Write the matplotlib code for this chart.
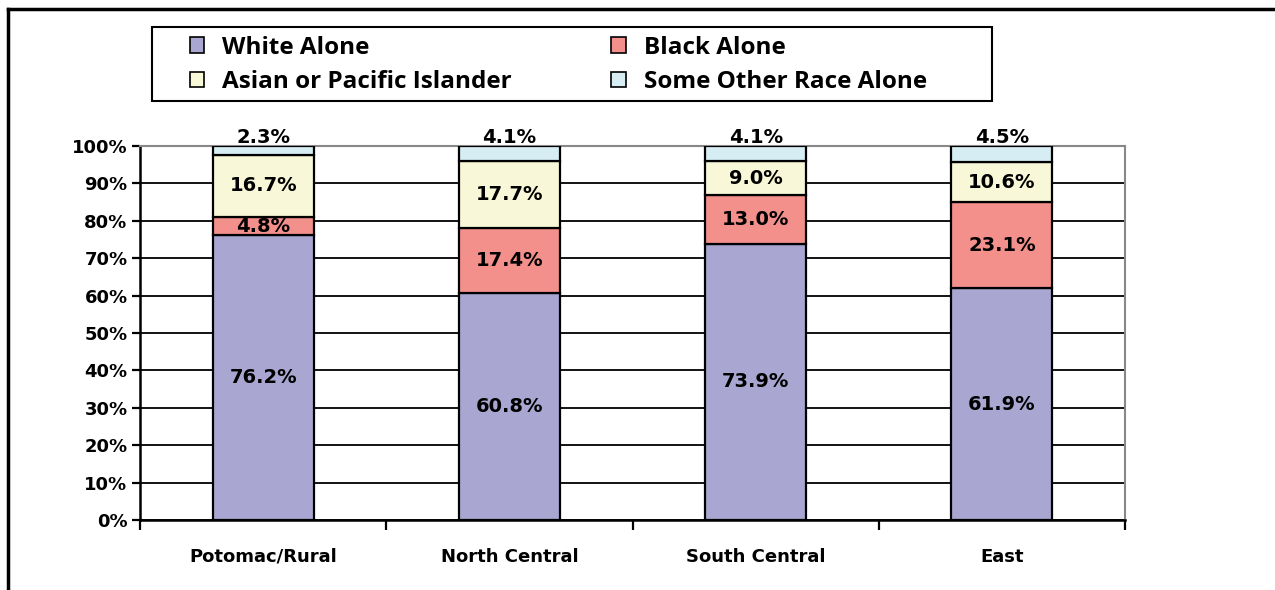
import matplotlib.pyplot as plt
import numpy as np
from matplotlib.lines import Line2D
from matplotlib.patches import Rectangle

regions = ["Potomac/Rural", "North Central", "South Central", "East"]
series = ["White Alone", "Black Alone", "Asian or Pacific Islander", "Some Other Race Alone"]
white = [76.2, 60.8, 73.9, 61.9]
black = [4.8, 17.4, 13.0, 23.1]
asian = [16.7, 17.7, 9.0, 10.6]
other = [2.3, 4.1, 4.1, 4.5]
colors = ["#A9A7D1", "#F4908C", "#F8F8D8", "#D6EEF3"]

W, H = 1275, 590
fig = plt.figure(figsize=(12.75, 5.9), dpi=100)
ax = fig.add_axes([140/W, 70/H, 985/W, 374/H])

x = np.arange(len(regions))
bottom = np.zeros(len(regions))
bars = []
for vals, c, name in zip([white, black, asian, other], colors, series):
    b = ax.bar(x, vals, 0.41, bottom=bottom, color=c, edgecolor="black",
               linewidth=1.6, label=name, zorder=3)
    bars.append(b)
    vals = np.array(vals)
    if name != "Some Other Race Alone":
        for xi, v, bt in zip(x, vals, bottom):
            ax.text(xi, bt + v / 2, f"{v:.1f}%", ha="center", va="center",
                    fontsize=14, fontweight="bold", zorder=4)
    else:
        for xi, v in zip(x, vals):
            ax.text(xi, 102.4, f"{v:.1f}%", ha="center", va="center",
                    fontsize=14, fontweight="bold", zorder=4)
    bottom = bottom + vals

ax.set_xlim(-0.5, 3.5)
ax.set_ylim(0, 100)
ax.set_yticks(range(0, 101, 10))
ax.set_yticklabels([f"{t}%" for t in range(0, 101, 10)], fontsize=13, fontweight="bold")
ax.yaxis.grid(True, color="black", linewidth=1.3, zorder=0)
ax.set_axisbelow(True)

ax.set_xticks(x)
ax.set_xticklabels(regions, fontsize=13, fontweight="bold")
ax.tick_params(axis="x", length=0, pad=20)
ax.set_xticks(np.arange(-0.5, 4, 1), minor=True)
ax.tick_params(axis="x", which="minor", length=7, width=1.6, direction="out")
ax.tick_params(axis="y", length=6, width=1.6, direction="out", pad=3)

ax.spines["left"].set_linewidth(1.8)
ax.spines["bottom"].set_linewidth(1.8)
ax.spines["top"].set_color("#888888")
ax.spines["top"].set_linewidth(1.5)
ax.spines["right"].set_color("#888888")
ax.spines["right"].set_linewidth(1.5)

# legend, filled row by row
order = [0, 2, 1, 3]
leg = fig.legend(handles=[bars[i][0] for i in order], labels=[series[i] for i in order],
                 ncol=2, loc="center left", bbox_to_anchor=(190/W, 1 - 65/H),
                 prop={"family": "Open Sans", "weight": "bold", "size": 17.5},
                 frameon=False, handlelength=0.58, handleheight=0.58,
                 handletextpad=0.74, columnspacing=4.1, borderpad=0,
                 borderaxespad=0, labelspacing=0.45)
for h in leg.legend_handles:
    h.set_linewidth(1.2)
fig.add_artist(Rectangle((152/W, 1 - 101/H), 840/W, 74/H, transform=fig.transFigure,
                         fill=False, edgecolor="black", linewidth=1.5))

# outer frame: top and left
fig.add_artist(Line2D([8/W, 1274/W], [1 - 9/H, 1 - 9/H], color="black", linewidth=2.5))
fig.add_artist(Line2D([8/W, 8/W], [0, 1 - 9/H], color="black", linewidth=2.5))

fig.savefig("out.png", dpi=100)
